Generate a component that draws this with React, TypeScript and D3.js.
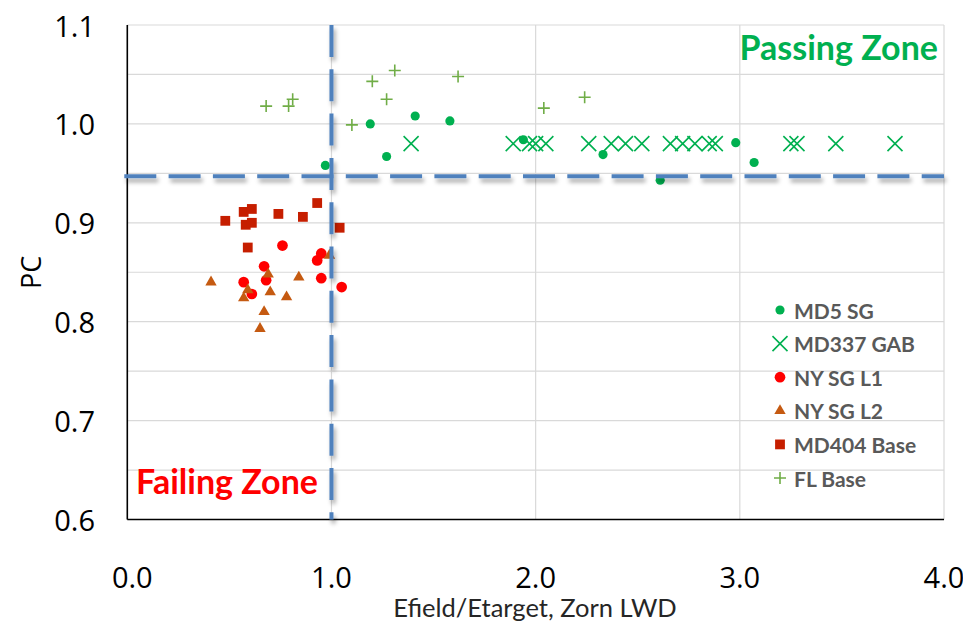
import React from "react";
import * as d3 from "d3";

// Efield/Etarget ratio (Zorn LWD) against PC, per project
const md5X = [0.97, 1.19, 1.27, 1.41, 1.58, 1.94, 2.33, 2.61, 2.98, 3.07];
const md5Y = [0.958, 1.0, 0.967, 1.008, 1.003, 0.984, 0.969, 0.943, 0.981, 0.961];

const md337X = [1.39, 1.89, 1.97, 2.0, 2.05, 2.26, 2.37, 2.44, 2.52, 2.66, 2.72, 2.78, 2.85, 2.88, 3.25, 3.28, 3.47, 3.76];
const md337Y = [0.98, 0.98, 0.98, 0.98, 0.98, 0.98, 0.98, 0.98, 0.98, 0.98, 0.98, 0.98, 0.98, 0.98, 0.98, 0.98, 0.98, 0.98];

const nyL1X = [0.76, 0.67, 0.95, 0.93, 0.57, 0.68, 0.61, 0.95, 1.05];
const nyL1Y = [0.877, 0.856, 0.869, 0.862, 0.84, 0.842, 0.828, 0.844, 0.835];

const nyL2X = [0.41, 0.69, 0.84, 0.59, 0.57, 0.7, 0.78, 0.67, 0.65, 0.99];
const nyL2Y = [0.84, 0.848, 0.845, 0.832, 0.824, 0.83, 0.825, 0.81, 0.793, 0.867];

const md404X = [0.48, 0.57, 0.61, 0.58, 0.61, 0.74, 0.86, 0.93, 1.04, 0.59];
const md404Y = [0.902, 0.911, 0.914, 0.898, 0.9, 0.909, 0.906, 0.92, 0.895, 0.875];

const flX = [0.68, 0.79, 0.81, 1.1, 1.2, 1.27, 1.31, 1.62, 2.04, 2.24];
const flY = [1.018, 1.018, 1.025, 0.999, 1.043, 1.025, 1.054, 1.048, 1.016, 1.027];

const xTicks = [0, 1, 2, 3, 4];
const yTicks = [0.6, 0.7, 0.8, 0.9, 1.0, 1.1];
const yGrid = [0.6, 0.65, 0.7, 0.75, 0.8, 0.85, 0.9, 0.95, 1.0, 1.05, 1.1];

const legendLabels = ["MD5 SG", "MD337 GAB", "NY SG L1", "NY SG L2", "MD404 Base", "FL Base"];

const passPC = 0.947;
const targetRatio = 1.0;

const W = 963;
const H = 630;
const left = 127.3;
const right = 944;
const top = 25;
const bottom = 519.5;

const x = d3.scaleLinear().domain([0, 4]).range([left, right]);
const y = d3.scaleLinear().domain([0.6, 1.1]).range([bottom, top]);

const FONT = "Lato, 'Open Sans', sans-serif";
const TICK_FONT = "'Open Sans', Lato, sans-serif";

const circleSmall = d3.symbol().type(d3.symbolCircle).size(66)()!;
const circleBig = d3.symbol().type(d3.symbolCircle).size(90)()!;
const squarePath = d3.symbol().type(d3.symbolSquare).size(96)()!;
const trianglePath = d3.symbol().type(d3.symbolTriangle).size(56)()!;

const crossPath = (h: number) => `M${-h},${-h}L${h},${h}M${-h},${h}L${h},${-h}`;
const plusPath = (h: number) => `M${-h},0L${h},0M0,${-h}L0,${h}`;

type Series = { xs: number[]; ys: number[]; draw: (key: string, px: number, py: number) => React.ReactNode };

const series: Series[] = [
  {
    xs: md5X,
    ys: md5Y,
    draw: (k, px, py) => <path key={k} d={circleSmall} transform={`translate(${px},${py})`} fill="#00B050" />,
  },
  {
    xs: md337X,
    ys: md337Y,
    draw: (k, px, py) => (
      <path key={k} d={crossPath(7.5)} transform={`translate(${px},${py})`} stroke="#00B050" strokeWidth={1.6} fill="none" />
    ),
  },
  {
    xs: nyL1X,
    ys: nyL1Y,
    draw: (k, px, py) => <path key={k} d={circleBig} transform={`translate(${px},${py})`} fill="#FF0000" />,
  },
  {
    xs: nyL2X,
    ys: nyL2Y,
    draw: (k, px, py) => <path key={k} d={trianglePath} transform={`translate(${px},${py})`} fill="#C55A11" />,
  },
  {
    xs: md404X,
    ys: md404Y,
    draw: (k, px, py) => <path key={k} d={squarePath} transform={`translate(${px},${py})`} fill="#C61E00" />,
  },
  {
    xs: flX,
    ys: flY,
    draw: (k, px, py) => (
      <path key={k} d={plusPath(6)} transform={`translate(${px},${py})`} stroke="#70AD47" strokeWidth={1.6} fill="none" />
    ),
  },
];

export default function App() {
  const legendX = 780;
  const legendY0 = 310;
  const legendStep = 33.6;

  return (
    <svg
      width={W}
      height={H}
      viewBox={`0 0 ${W} ${H}`}
      style={{ position: "absolute", left: 0, top: 0, background: "#fff" }}
    >
      <defs>
        <filter id="lineShadow" x="-10%" y="-10%" width="120%" height="120%">
          <feDropShadow dx={2} dy={4} stdDeviation={2} floodColor="#000" floodOpacity={0.35} />
        </filter>
      </defs>

      {/* gridlines */}
      {yGrid.map((v) => (
        <line key={`gy${v}`} x1={left} x2={right} y1={y(v)} y2={y(v)} stroke="#D9D9D9" strokeWidth={1.2} />
      ))}
      {xTicks.slice(1).map((v) => (
        <line key={`gx${v}`} x1={x(v)} x2={x(v)} y1={top} y2={bottom} stroke="#D9D9D9" strokeWidth={1.2} />
      ))}

      {/* axes */}
      <line x1={left} x2={left} y1={top} y2={bottom} stroke="#000" strokeWidth={1.6} />
      <line x1={left} x2={right} y1={bottom} y2={bottom} stroke="#000" strokeWidth={1.6} />

      {/* tick labels */}
      {yTicks.map((v) => (
        <text
          key={`ty${v}`}
          x={95}
          y={y(v)}
          textAnchor="end"
          dominantBaseline="central"
          fontFamily={TICK_FONT}
          fontSize={29}
          fill="#000"
        >
          {v.toFixed(1)}
        </text>
      ))}
      {xTicks.map((v) => (
        <text
          key={`tx${v}`}
          x={x(v) + (v === 0 ? 5 : 0)}
          y={576}
          textAnchor="middle"
          dominantBaseline="central"
          fontFamily={TICK_FONT}
          fontSize={29}
          fill="#000"
        >
          {v.toFixed(1)}
        </text>
      ))}

      {/* axis titles */}
      <text
        x={535}
        y={607}
        textAnchor="middle"
        dominantBaseline="central"
        fontFamily={FONT}
        fontSize={25.5}
        fill="#262626"
      >
        Efield/Etarget, Zorn LWD
      </text>
      <text
        transform={`translate(30,${(top + bottom) / 2}) rotate(-90)`}
        textAnchor="middle"
        dominantBaseline="central"
        fontFamily={TICK_FONT}
        fontSize={27}
        fill="#000"
      >
        PC
      </text>

      {/* data points */}
      {series.map((s, si) => s.xs.map((xv, i) => s.draw(`p${si}-${i}`, x(xv), y(s.ys[i]))))}

      {/* threshold lines */}
      <g filter="url(#lineShadow)">
        <line
          x1={left - 3}
          x2={right}
          y1={y(passPC)}
          y2={y(passPC)}
          stroke="#4F81BD"
          strokeWidth={4}
          strokeDasharray="32 12.3"
        />
        <line
          x1={x(targetRatio)}
          x2={x(targetRatio)}
          y1={top}
          y2={bottom}
          stroke="#4F81BD"
          strokeWidth={4}
          strokeDasharray="32 12.3"
        />
      </g>

      {/* zone labels */}
      <text x={938} y={60} textAnchor="end" fontFamily={FONT} fontWeight={700} fontSize={34} fill="#00B050">
        Passing Zone
      </text>
      <text x={318} y={494} textAnchor="end" fontFamily={FONT} fontWeight={700} fontSize={34} fill="#FF0000">
        Failing Zone
      </text>

      {/* legend */}
      {legendLabels.map((label, i) => {
        const ly = legendY0 + i * legendStep;
        return (
          <g key={label}>
            {series[i].draw(`lg${i}`, legendX, ly)}
            <text
              x={794}
              y={ly}
              dominantBaseline="central"
              fontFamily={FONT}
              fontWeight={700}
              fontSize={21}
              fill="#595959"
            >
              {label}
            </text>
          </g>
        );
      })}
    </svg>
  );
}
